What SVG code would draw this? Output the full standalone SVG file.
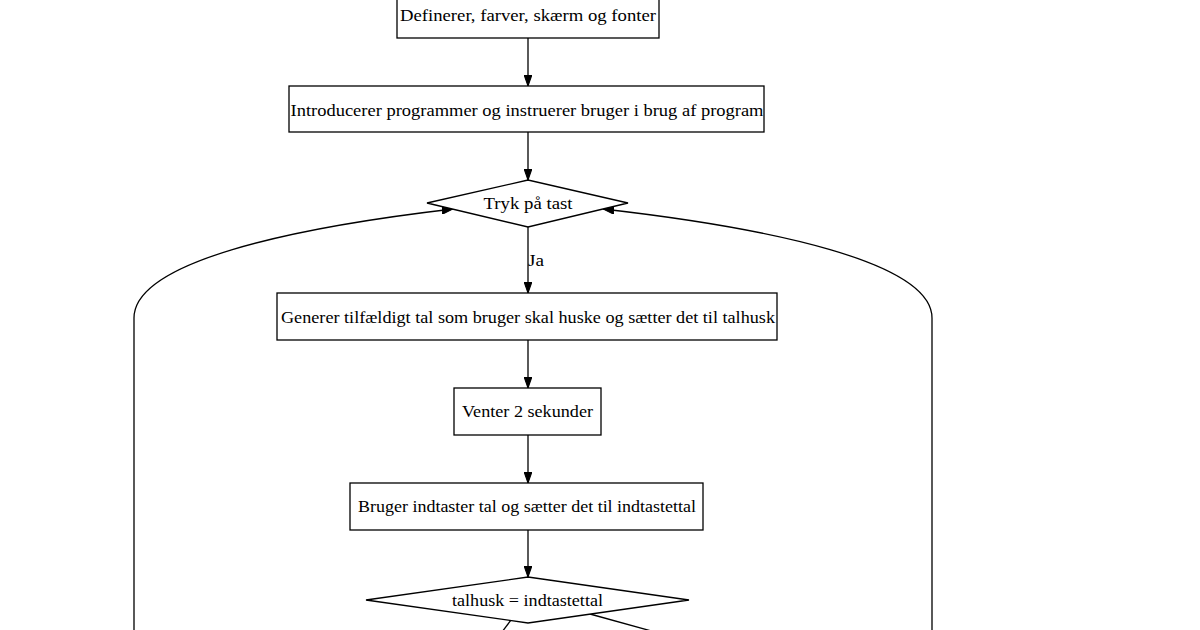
<svg xmlns="http://www.w3.org/2000/svg" width="1200" height="630" viewBox="0 0 1200 630">
<style>
.n{fill:#fff;stroke:#000;stroke-width:1.3}
.t{font-family:"Liberation Serif","Times New Roman",serif;font-size:17.5px;fill:#000;text-anchor:middle;dominant-baseline:central}
.e{fill:none;stroke:#000;stroke-width:1.3}
</style>
<defs>
<marker id="a" viewBox="0 0 10 7" refX="10" refY="3.5" markerWidth="11" markerHeight="8" markerUnits="userSpaceOnUse" orient="auto">
<path d="M0,0 L10,3.5 L0,7 Z" fill="#000" stroke="#000" stroke-width="1"/>
</marker>
</defs>
<rect width="1200" height="630" fill="#fff"/>
<g id="connectors">
<path class="e" d="M528,38 L528,86" marker-end="url(#a)"/>
<path class="e" d="M528,132 L528,180" marker-end="url(#a)"/>
<path class="e" d="M528,227 L528,293" marker-end="url(#a)"/>
<text class="t" x="536" y="260" textLength="16" lengthAdjust="spacingAndGlyphs">Ja</text>
<path class="e" d="M528,340 L528,388" marker-end="url(#a)"/>
<path class="e" d="M528,435 L528,483" marker-end="url(#a)"/>
<path class="e" d="M528,530 L528,577" marker-end="url(#a)"/>
<path class="e" d="M134,640 L134,318 C134,262 290,228 453,209" marker-end="url(#a)"/>
<path class="e" d="M932,640 L932,318 C932,262 770,228 603,209" marker-end="url(#a)"/>
<path class="e" d="M511,620 L502,632"/>
<path class="e" d="M590,614 L655,632"/>
</g>
<g id="n1"><rect class="n" x="397" y="-9" width="262" height="47"/><text class="t" x="528" y="15" textLength="256" lengthAdjust="spacingAndGlyphs">Definerer, farver, skærm og fonter</text></g>
<g id="n2"><rect class="n" x="289" y="86" width="475" height="46"/><text class="t" x="527" y="110" textLength="473" lengthAdjust="spacingAndGlyphs">Introducerer programmer og instruerer bruger i brug af program</text></g>
<g id="n3"><polygon class="n" points="427,203 528,180 628,203 528,227"/><text class="t" x="528" y="203" textLength="89" lengthAdjust="spacingAndGlyphs">Tryk på tast</text></g>
<g id="n4"><rect class="n" x="277" y="293" width="500" height="47"/><text class="t" x="528" y="317" textLength="494" lengthAdjust="spacingAndGlyphs">Generer tilfældigt tal som bruger skal huske og sætter det til talhusk</text></g>
<g id="n5"><rect class="n" x="454" y="388" width="147" height="47"/><text class="t" x="527.5" y="411" textLength="131" lengthAdjust="spacingAndGlyphs">Venter 2 sekunder</text></g>
<g id="n6"><rect class="n" x="350" y="483" width="353" height="47"/><text class="t" x="527" y="506" textLength="338" lengthAdjust="spacingAndGlyphs">Bruger indtaster tal og sætter det til indtastettal</text></g>
<g id="n7"><polygon class="n" points="366,600 528,577 689,600 528,623"/><text class="t" x="527.5" y="600" textLength="151" lengthAdjust="spacingAndGlyphs">talhusk = indtastettal</text></g>
</svg>
